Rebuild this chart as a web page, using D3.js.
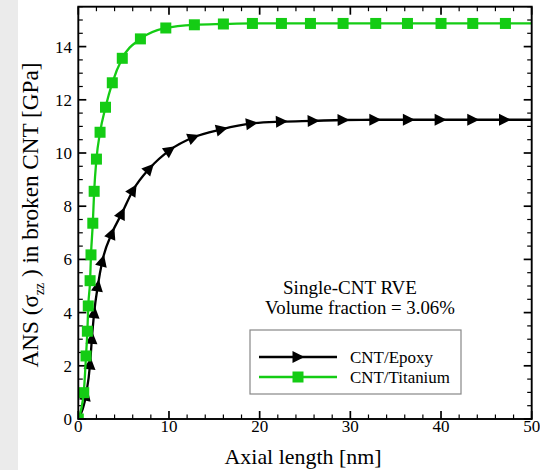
<!DOCTYPE html>
<html><head><meta charset="utf-8">
<script src="https://cdn.jsdelivr.net/npm/d3@7"></script>
<style>body{margin:0;background:#fff}svg{display:block}text{font-family:"Liberation Serif","Times New Roman",serif;fill:#000}</style>
</head><body>
<svg id="c" width="540" height="470"></svg>
<script>
const epoxyX = [0, 0.85, 1.3, 1.5, 1.75, 2.15, 2.65, 3.7, 4.8, 6.05, 7.85, 10.1, 12.7, 15.8, 19.1, 22.4, 25.9, 29.2, 32.7, 36.4, 39.9, 43.5, 47.0, 50];
const epoxyY = [0, 0.9, 2.07, 3.03, 4.0, 5.0, 5.94, 6.98, 7.73, 8.61, 9.42, 10.11, 10.59, 10.89, 11.11, 11.18, 11.21, 11.24, 11.25, 11.25, 11.25, 11.25, 11.25, 11.25];
const titanX = [0, 0.6, 0.85, 1.0, 1.1, 1.3, 1.4, 1.6, 1.75, 2.0, 2.4, 3.0, 3.75, 4.85, 6.85, 9.65, 12.8, 16.0, 19.2, 22.4, 25.6, 29.2, 32.8, 36.3, 40.0, 43.5, 47.1, 50];
const titanY = [0, 0.99, 2.37, 3.3, 4.25, 5.2, 6.17, 7.36, 8.56, 9.77, 10.78, 11.72, 12.64, 13.56, 14.29, 14.70, 14.82, 14.85, 14.87, 14.87, 14.87, 14.87, 14.87, 14.87, 14.87, 14.87, 14.87, 14.87];
const xTicks = [0, 10, 20, 30, 40, 50];
const yTicks = [0, 2, 4, 6, 8, 10, 12, 14];
const seriesNames = ["CNT/Epoxy", "CNT/Titanium"];
const annotation = ["Single-CNT RVE", "Volume fraction = 3.06%"];

const svg = d3.select("#c");
const L = 78.3, R = 531.7, T = 6.7, B = 419;
const x = d3.scaleLinear().domain([0, 50]).range([L, R]);
const y = d3.scaleLinear().domain([0, 15.5]).range([B, T]);
const green = "#14cc14";

// fit a text element's font size (and its tspans' sizes) so its length matches a target width
function fit(sel, target) {
  const len = sel.node().getComputedTextLength();
  if (len > 0) {
    const k = target / len;
    sel.attr("font-size", (parseFloat(sel.attr("font-size")) * k).toFixed(2));
    sel.selectAll("tspan").each(function () {
      const t = d3.select(this);
      if (t.attr("font-size")) t.attr("font-size", (parseFloat(t.attr("font-size")) * k).toFixed(2));
    });
  }
  return sel;
}

// scan strip at left
svg.append("rect").attr("x", 0).attr("y", 0).attr("width", 18).attr("height", 470).attr("fill", "#ebebeb");

const clip = svg.append("defs").append("clipPath").attr("id", "pc");
clip.append("rect").attr("x", L).attr("y", T).attr("width", R - L).attr("height", B - T);

// ticks (inside, all four sides)
const majLen = 8, minLen = 4.5;
const xMinor = d3.range(0, 50.01, 2);
const yMinor = d3.range(0, 15.51, 0.5);
const tg = svg.append("g").attr("stroke", "#000");
xMinor.forEach(v => {
  const major = xTicks.includes(Math.round(v * 100) / 100);
  const len = major ? majLen : minLen;
  tg.append("line").attr("x1", x(v)).attr("x2", x(v)).attr("y1", B).attr("y2", B - len).attr("stroke-width", major ? 1.7 : 1.2);
  tg.append("line").attr("x1", x(v)).attr("x2", x(v)).attr("y1", T).attr("y2", T + len).attr("stroke-width", major ? 1.7 : 1.2);
});
yMinor.forEach(v => {
  const major = yTicks.includes(Math.round(v * 100) / 100);
  const len = major ? majLen : minLen;
  tg.append("line").attr("y1", y(v)).attr("y2", y(v)).attr("x1", L).attr("x2", L + len).attr("stroke-width", major ? 1.7 : 1.2);
  tg.append("line").attr("y1", y(v)).attr("y2", y(v)).attr("x1", R).attr("x2", R - len).attr("stroke-width", major ? 1.7 : 1.2);
});

// tick labels
svg.append("g").selectAll("text").data(xTicks).join("text")
  .attr("x", d => x(d)).attr("y", 432).attr("text-anchor", "middle").attr("font-size", 17).text(d => d);
svg.append("g").selectAll("text").data(yTicks).join("text")
  .attr("x", 72).attr("y", d => y(d) + 6).attr("text-anchor", "end").attr("font-size", 17).text(d => d);

// axis titles
fit(svg.append("text").attr("x", (L + R) / 2 - 2).attr("y", 464).attr("text-anchor", "middle").attr("font-size", 21).text("Axial length [nm]"), 157);
const yl = svg.append("text").attr("transform", "translate(38,215) rotate(-90)").attr("text-anchor", "middle").attr("font-size", 22);
yl.append("tspan").text("ANS (σ");
yl.append("tspan").attr("font-size", 13).attr("dy", 6).text("zz");
yl.append("tspan").attr("dy", -6).text(" ) in broken CNT [GPa]");
fit(yl, 305);

// data lines
const line = d3.line().x(d => x(d[0])).y(d => y(d[1])).curve(d3.curveMonotoneX);
const ep = epoxyX.map((v, i) => [v, epoxyY[i]]);
const ti = titanX.map((v, i) => [v, titanY[i]]);
const pg = svg.append("g").attr("clip-path", "url(#pc)");
pg.append("path").attr("d", line(ep)).attr("fill", "none").attr("stroke", "#000").attr("stroke-width", 2.3);
const triPath = "M6.5,0L-5.5,-6L-5.5,6Z";
ep.forEach((d, i) => {
  if (d[0] >= 50) return;
  const a = ep[Math.max(0, i - 1)], b = ep[Math.min(ep.length - 1, i + 1)];
  const ang = Math.atan2(y(b[1]) - y(a[1]), x(b[0]) - x(a[0])) * 180 / Math.PI;
  pg.append("path").attr("d", triPath).attr("fill", "#000")
    .attr("transform", `translate(${x(d[0])},${y(d[1])}) rotate(${ang})`);
});
pg.append("path").attr("d", line(ti)).attr("fill", "none").attr("stroke", green).attr("stroke-width", 2.3);
pg.selectAll("rect.m").data(ti.filter(d => d[0] < 50)).join("rect").attr("class", "m")
  .attr("x", d => x(d[0]) - 5.5).attr("y", d => y(d[1]) - 5.5).attr("width", 11).attr("height", 11).attr("fill", green);

// frame
svg.append("rect").attr("x", L).attr("y", T).attr("width", R - L).attr("height", B - T)
  .attr("fill", "none").attr("stroke", "#000").attr("stroke-width", 1.9);

// annotation
fit(svg.append("text").attr("x", 350).attr("y", 294).attr("text-anchor", "middle").attr("font-size", 19).text(annotation[0]), 134);
fit(svg.append("text").attr("x", 360).attr("y", 314).attr("text-anchor", "middle").attr("font-size", 19).text(annotation[1]), 190);

// legend
const lg = svg.append("g");
lg.append("rect").attr("x", 250).attr("y", 330).attr("width", 211).attr("height", 64).attr("fill", "#fff").attr("stroke", "#888").attr("stroke-width", 1.2);
lg.append("line").attr("x1", 259).attr("x2", 337).attr("y1", 357).attr("y2", 357).attr("stroke", "#000").attr("stroke-width", 2.3);
lg.append("path").attr("d", triPath).attr("fill", "#000").attr("transform", "translate(298,357)");
lg.append("line").attr("x1", 259).attr("x2", 337).attr("y1", 377).attr("y2", 377).attr("stroke", green).attr("stroke-width", 2.3);
lg.append("rect").attr("x", 292.5).attr("y", 371.5).attr("width", 11).attr("height", 11).attr("fill", green);
fit(lg.append("text").attr("x", 350).attr("y", 363).attr("font-size", 17).text(seriesNames[0]), 83);
fit(lg.append("text").attr("x", 350).attr("y", 383).attr("font-size", 17).text(seriesNames[1]), 100);
</script>
</body></html>
